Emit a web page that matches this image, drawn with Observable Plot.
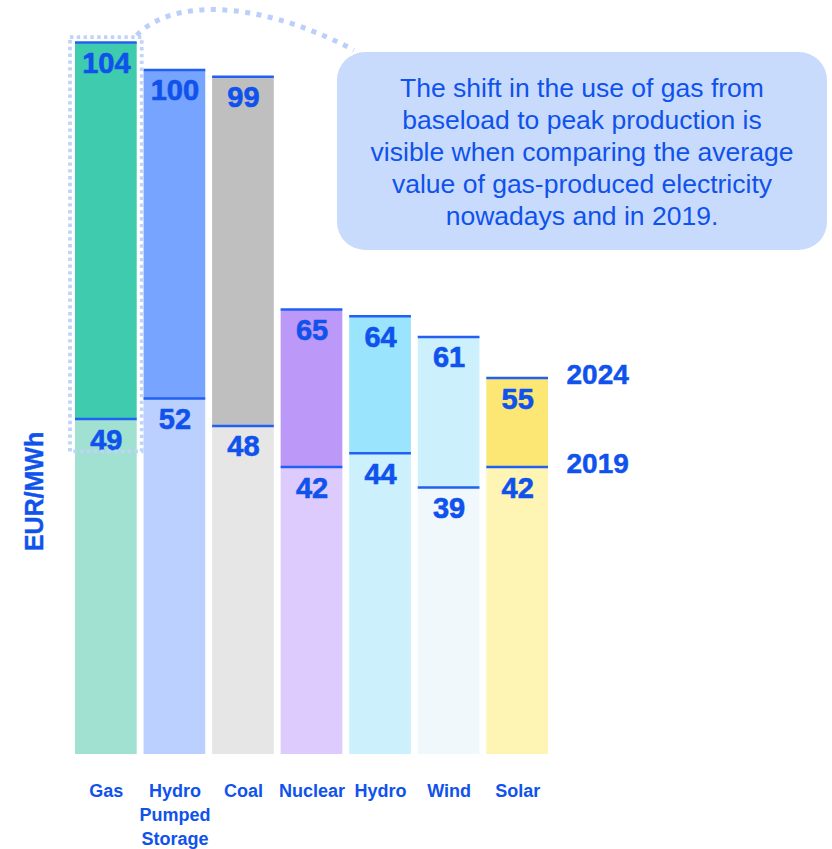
<!DOCTYPE html>
<html><head><meta charset="utf-8">
<script src="https://cdn.jsdelivr.net/npm/d3@7"></script>
<script src="https://cdn.jsdelivr.net/npm/@observablehq/plot@0.6"></script>
<style>
html,body{margin:0;padding:0;background:#fff;}
#chart{position:relative;width:832px;height:849px;overflow:hidden}
svg{display:block}
</style></head><body><div id="chart"></div>
<script>
// ---- data ----
const categories = ["Gas", "Hydro Pumped Storage", "Coal", "Nuclear", "Hydro", "Wind", "Solar"];
const tickLabels = ["Gas", "Hydro\nPumped\nStorage", "Coal", "Nuclear", "Hydro", "Wind", "Solar"];
const values2019 = [49, 52, 48, 42, 44, 39, 42];
const values2024 = [104, 100, 99, 65, 64, 61, 55];
const colors2019 = ["#a1e1d1", "#bbd0fe", "#e6e6e6", "#dccbfc", "#ccf0fc", "#f0f8fc", "#fef4b4"];
const colors2024 = ["#3ecbae", "#77a4fe", "#bfbfbf", "#bc98f9", "#9ae4fd", "#ccf0fc", "#fde774"];
const yearLabels = ["2019", "2024"];
const yAxisLabel = "EUR/MWh";
const calloutLines = [
  "The shift in the use of gas from",
  "baseload to peak production is",
  "visible when comparing the average",
  "value of gas-produced electricity",
  "nowadays and in 2019."
];

const rows = categories.map((c, i) => ({
  category: c, v2019: values2019[i], v2024: values2024[i],
  c2019: colors2019[i], c2024: colors2024[i]
}));
const gasRows = rows.filter(d => d.category === "Gas");
const solarRows = rows.filter(d => d.category === "Solar");

const BLUE = "#0f52ec";
const LINE = "#2160f2";
const DOT = "#c0d3fb";
const FONT = "'Liberation Sans', Arial, sans-serif";

const plot = Plot.plot({
  width: 832, height: 849,
  marginLeft: 75, marginRight: 284, marginTop: 42, marginBottom: 95,
  style: {fontFamily: FONT, color: BLUE, background: "transparent", overflow: "visible"},
  x: {domain: categories, paddingInner: 0.1, paddingOuter: 0, round: false},
  y: {domain: [0, 104], axis: null},
  color: {type: "identity"},
  marks: [
    Plot.barY(rows, {x: "category", y1: 0, y2: "v2019", fill: "c2019"}),
    Plot.barY(rows, {x: "category", y1: "v2019", y2: "v2024", fill: "c2024"}),
    Plot.tickY(rows, {x: "category", y: "v2019", stroke: LINE, strokeWidth: 2.5}),
    Plot.tickY(rows, {x: "category", y: "v2024", stroke: LINE, strokeWidth: 2.5}),
    Plot.text(rows, {x: "category", y: "v2024", text: d => String(d.v2024), lineAnchor: "top", dy: 10,
      fontSize: 29, fontWeight: "bold", fill: BLUE, stroke: BLUE, strokeWidth: 0.6}),
    Plot.text(rows, {x: "category", y: "v2019", text: d => String(d.v2019), lineAnchor: "top", dy: 10,
      fontSize: 29, fontWeight: "bold", fill: BLUE, stroke: BLUE, strokeWidth: 0.6}),
    Plot.text(solarRows, {x: "category", y: "v2024", text: () => yearLabels[1], dx: 80, dy: -3,
      lineAnchor: "middle", fontSize: 28, fontWeight: "bold", fill: BLUE, stroke: BLUE, strokeWidth: 0.5}),
    Plot.text(solarRows, {x: "category", y: "v2019", text: () => yearLabels[0], dx: 80, dy: -3,
      lineAnchor: "middle", fontSize: 28, fontWeight: "bold", fill: BLUE, stroke: BLUE, strokeWidth: 0.5}),
    Plot.barY(gasRows, {x: "category", y1: d => d.v2019 - 4.8, y2: d => d.v2024 + 0.7,
      fill: "none", stroke: DOT, strokeWidth: 3.8, strokeDasharray: "3.4 3.4", insetLeft: -5, insetRight: -5}),
    Plot.text([yAxisLabel], {text: d => d, frameAnchor: "bottom-left", rotate: -90, dx: -41, dy: -263,
      textAnchor: "middle", lineAnchor: "middle",
      fontSize: 25, fontWeight: "bold", fill: BLUE, stroke: BLUE, strokeWidth: 0.4}),
    Plot.axisX({tickSize: 0, tickPadding: 25, label: null,
      tickFormat: c => tickLabels[categories.indexOf(c)],
      fontSize: 18, fontWeight: "bold", lineHeight: 1.34, fill: BLUE, stroke: BLUE, strokeWidth: 0.3})
  ]
});

// ---- annotation: callout box and dotted connector ----
const svg = d3.select(plot);
const xs = plot.scale("x"), ys = plot.scale("y");
const gas = gasRows[0];
const sx = xs.apply(gas.category) + xs.bandwidth;
const sy = ys.apply(gas.v2024 + 0.7) - 2;
const box = {x: 337, y: 52, w: 490, h: 198, r: 28};
const ex = box.x + 17, ey = box.y - 2;
svg.append("path")
  .attr("d", `M${sx},${sy} C${sx + 33},${sy - 34} ${sx + 113},${sy - 39} ${ex},${ey}`)
  .attr("fill", "none").attr("stroke", "#bccffb").attr("stroke-width", 5).attr("stroke-dasharray", "5 6.5");
const g = svg.append("g");
g.append("rect").attr("x", box.x).attr("y", box.y).attr("width", box.w).attr("height", box.h)
  .attr("rx", box.r).attr("fill", "#c9dbfd");
const t = g.append("text").attr("text-anchor", "middle").attr("fill", BLUE)
  .attr("font-family", FONT).attr("font-size", 26.5);
calloutLines.forEach((line, i) => {
  t.append("tspan").attr("x", box.x + box.w / 2).attr("y", 96.5 + i * 32).text(line);
});

document.getElementById("chart").appendChild(plot);
</script>
</body></html>
